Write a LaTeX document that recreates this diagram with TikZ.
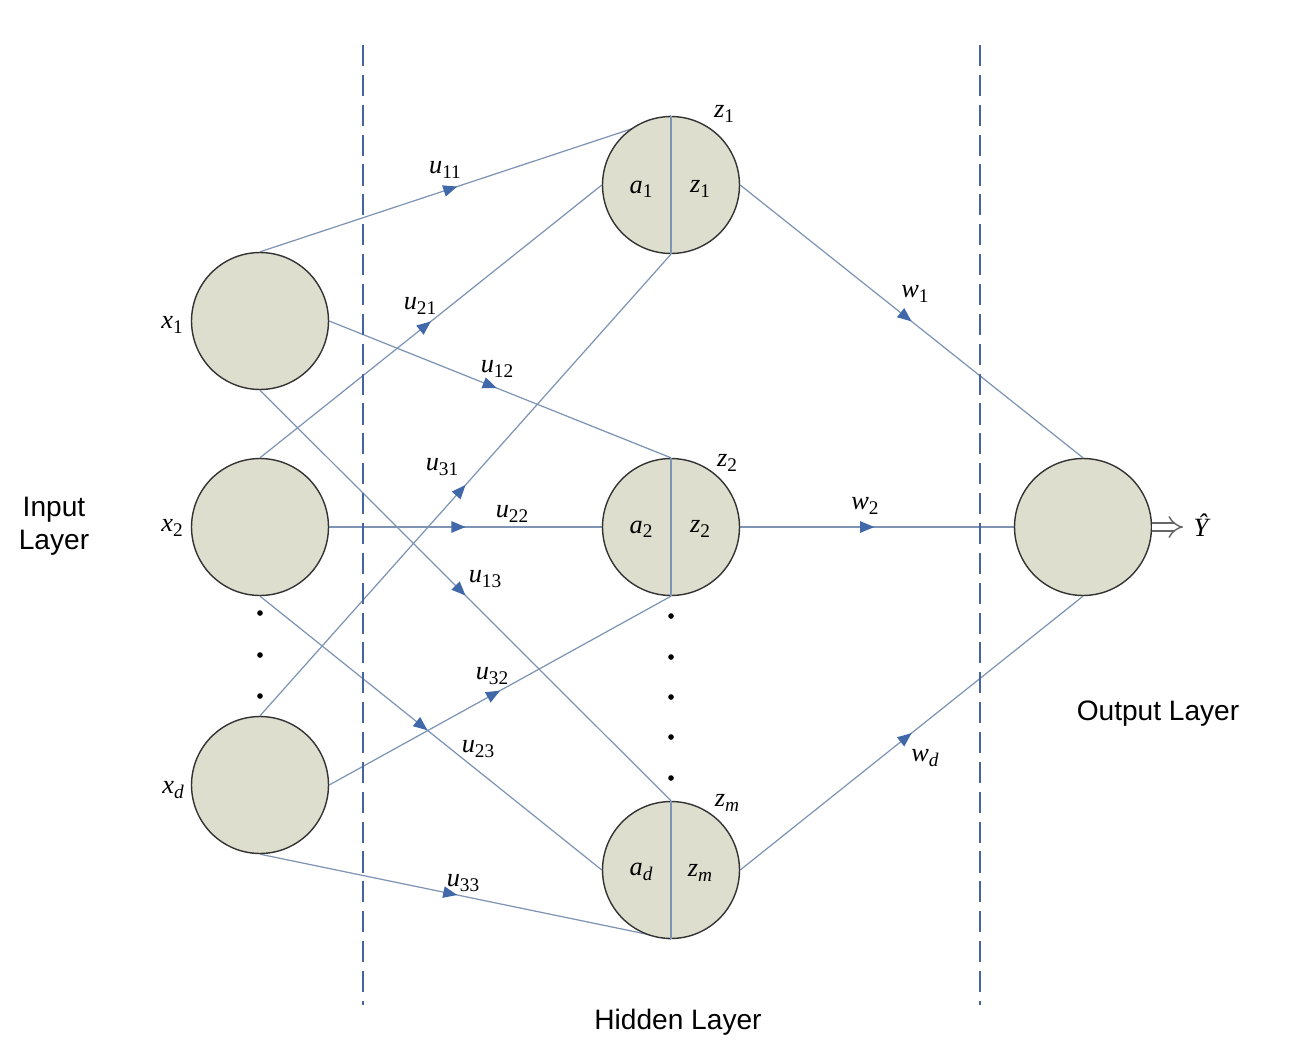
\documentclass[tikz,border=0pt]{standalone}
\usepackage{fontspec}
\setmainfont{Liberation Serif}
\newfontfamily\sansf{Liberation Sans}
\usetikzlibrary{arrows.meta,decorations.markings,backgrounds}
\definecolor{nodefill}{RGB}{221,222,205}
\definecolor{edgecol}{RGB}{125,148,180}
\definecolor{arrcol}{RGB}{65,105,170}
\definecolor{dashcol}{RGB}{70,100,160}
\newcommand\lbl[2]{\textit{#1}\raisebox{-0.35ex}{\fontsize{11}{11}\selectfont #2}}
\newcommand\lbli[2]{\textit{#1}\raisebox{-0.35ex}{\fontsize{11}{11}\selectfont\itshape #2}}
\begin{document}
\begin{tikzpicture}[x=0.02cm,y=-0.02cm,
 neuron/.style={circle,draw=black!80,line width=0.8pt,fill=nodefill,minimum size=2.74cm,inner sep=0pt},
 edge/.style={draw=edgecol,line width=0.7pt},
 marr/.style={postaction={decorate,decoration={markings,mark=at position #1 with {\arrow{Triangle[length=8pt,width=6.5pt,color=arrcol]}}}}},
 lab/.style={font=\fontsize{15}{15}\selectfont,inner sep=0pt},
 layer/.style={font=\sansf\fontsize{16}{19}\selectfont,align=center,inner sep=0pt},
 divider/.style={draw=dashcol,line width=1.1pt,dash pattern=on 12pt off 5pt},
 dotn/.style={circle,fill=black,inner sep=0pt,minimum size=3.2pt}]
\useasboundingbox (0,0) rectangle (1292,1058);

% neurons
\node[neuron] (x1) at (260,321) {};
\node[neuron] (x2) at (260,527) {};
\node[neuron] (xd) at (260,785) {};
\node[neuron] (h1) at (671,185) {};
\node[neuron] (h2) at (671,527) {};
\node[neuron] (hm) at (671,870) {};
\node[neuron] (out) at (1083,527) {};

% dividers
\coordinate (d1a) at (363,45); \coordinate (d1b) at (363,1005);
\coordinate (d2a) at (980,45); \coordinate (d2b) at (980,1005);
\draw[divider] (d1a) -- (d1b);
\draw[divider] (d2a) -- (d2b);

% edges
\begin{scope}[on background layer]
\draw[edge,marr=0.48] (x1.north) -- (h1.north);
\draw[edge,marr=0.49] (x1.east) -- (h2.north);
\draw[edge,marr=0.5] (x1.south) -- (hm.north);
\draw[edge,marr=0.5] (x2.north) -- (h1.west);
\draw[edge,marr=0.5] (x2.east) -- (h2.west);
\draw[edge,marr=0.49] (x2.south) -- (hm.west);
\draw[edge,marr=0.5] (xd.north) -- (h1.south);
\draw[edge,marr=0.5] (xd.east) -- (h2.south);
\draw[edge,marr=0.48] (xd.south) -- (hm.south);
\draw[edge,marr=0.5] (h1.east) -- (out.north);
\draw[edge,marr=0.49] (h2.east) -- (out.west);
\draw[edge,marr=0.5] (hm.east) -- (out.south);
\end{scope}

% dividers inside hidden neurons
\draw[edge] (h1.north) -- (h1.south);
\draw[edge] (h2.north) -- (h2.south);
\draw[edge] (hm.north) -- (hm.south);

% output arrow
\coordinate (yend) at (1183,527);
\draw[black!60,line width=0.8pt,double=white,double distance=3.6pt,-{Implies}] (out.east) -- (yend);
\node[lab] (yhat) at (1202,525) {\textit{Ŷ}};

% dots
\node[dotn] (p1) at (260,613) {};
\node[dotn] (p2) at (260,655) {};
\node[dotn] (p3) at (260,696) {};
\node[dotn] (q1) at (671,616) {};
\node[dotn] (q2) at (671,657) {};
\node[dotn] (q3) at (671,697) {};
\node[dotn] (q4) at (671,737) {};
\node[dotn] (q5) at (671,778) {};

% neuron labels
\node[lab] (lx1) at (172,325) {\lbl{x}{1}};
\node[lab] (lx2) at (172,528) {\lbl{x}{2}};
\node[lab] (lxd) at (173,790) {\lbli{x}{d}};
\node[lab] (lz1t) at (724,114) {\lbl{z}{1}};
\node[lab] (lz2t) at (727,463) {\lbl{z}{2}};
\node[lab] (lzmt) at (727,803) {\lbli{z}{m}};
\node[lab] (la1) at (641,189) {\lbl{a}{1}};
\node[lab] (lz1) at (700,189) {\lbl{z}{1}};
\node[lab] (la2) at (641,529) {\lbl{a}{2}};
\node[lab] (lz2) at (700,529) {\lbl{z}{2}};
\node[lab] (lad) at (641,872) {\lbli{a}{d}};
\node[lab] (lzm) at (700,873) {\lbli{z}{m}};

% weight labels
\node[lab] (u11) at (445,170) {\lbl{u}{11}};
\node[lab] (u21) at (420,306) {\lbl{u}{21}};
\node[lab] (u12) at (497,369) {\lbl{u}{12}};
\node[lab] (u31) at (442,467) {\lbl{u}{31}};
\node[lab] (u22) at (512,514) {\lbl{u}{22}};
\node[lab] (u13) at (485,579) {\lbl{u}{13}};
\node[lab] (u32) at (492,676) {\lbl{u}{32}};
\node[lab] (u23) at (478,749) {\lbl{u}{23}};
\node[lab] (u33) at (463,883) {\lbl{u}{33}};
\node[lab] (w1) at (915,294) {\lbl{w}{1}};
\node[lab] (w2) at (865,506) {\lbl{w}{2}};
\node[lab] (wd) at (925,758) {\lbli{w}{d}};

% layer names
\node[layer] (inl) at (54,526) {Input\\Layer};
\node[layer] (outl) at (1158,714) {Output Layer};
\node[layer] (hidl) at (678,1022) {Hidden Layer};
\end{tikzpicture}
\end{document}
